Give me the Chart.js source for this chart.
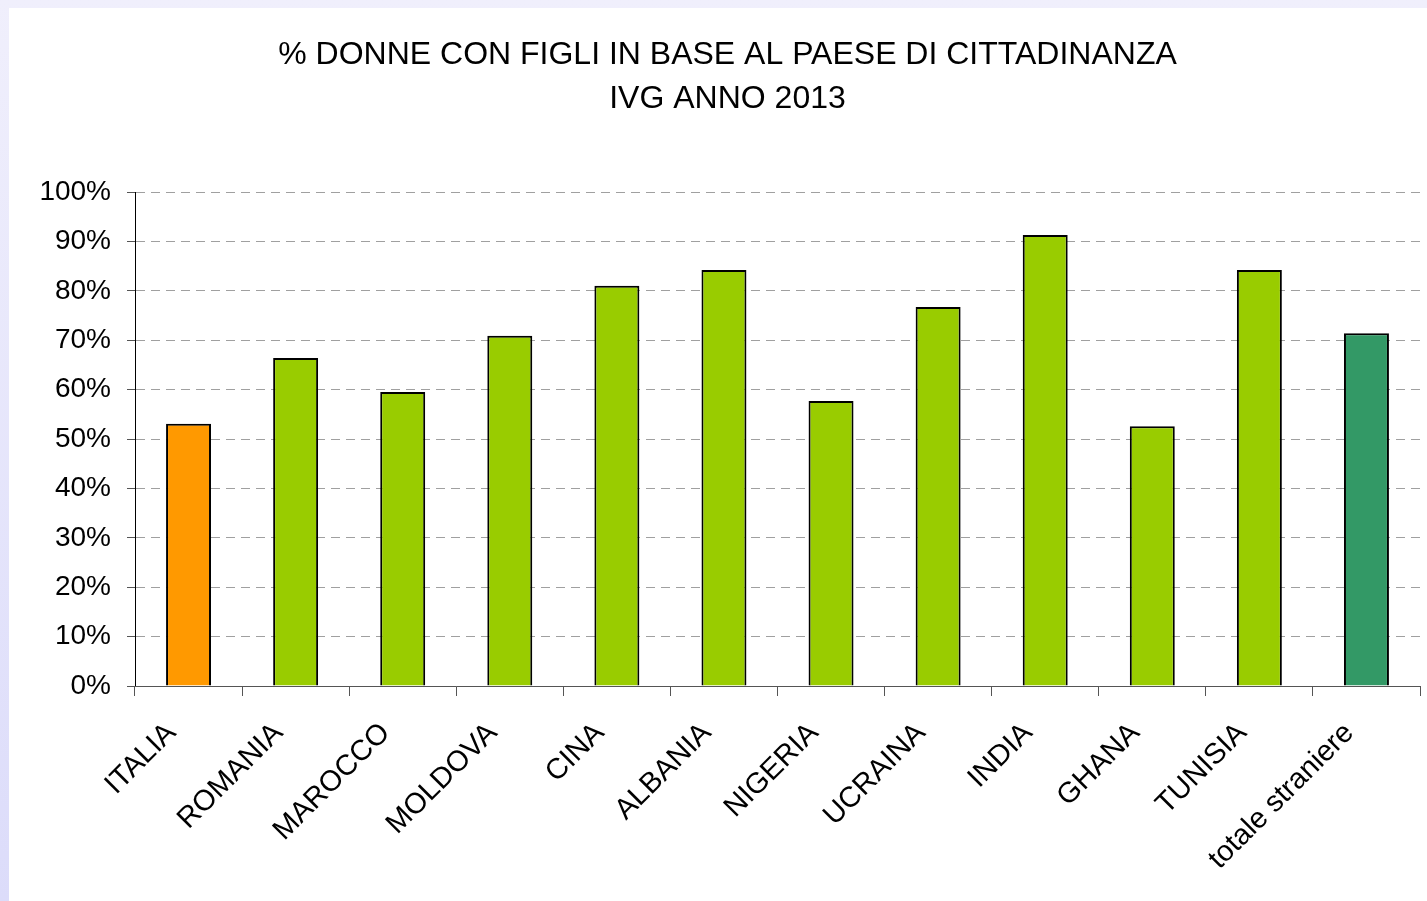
<!DOCTYPE html>
<html>
<head>
<meta charset="utf-8">
<script src="https://cdn.jsdelivr.net/npm/chart.js@4"></script>
<style>
  html, body { margin: 0; padding: 0; }
  body {
    width: 1427px; height: 901px; overflow: hidden;
    background: linear-gradient(#f0effc, #dcdcfa);
  }
  #wrap {
    position: absolute; left: 9px; top: 8px;
    width: 1418px; height: 893px; background: #ffffff;
  }
</style>
</head>
<body>
<div id="wrap"><canvas id="ivgChart" width="1418" height="893"></canvas></div>
<script>
// paesi di cittadinanza
const countries = ["ITALIA","ROMANIA","MAROCCO","MOLDOVA","CINA","ALBANIA","NIGERIA","UCRAINA","INDIA","GHANA","TUNISIA","totale straniere"];
// % donne con figli
const pctWithChildren = [53.1, 66.4, 59.5, 70.9, 81.0, 84.2, 57.7, 76.7, 91.3, 52.6, 84.2, 71.4];
const barColors = ["#FF9900","#99CC00","#99CC00","#99CC00","#99CC00","#99CC00","#99CC00","#99CC00","#99CC00","#99CC00","#99CC00","#339966"];
const titleLines = ["% DONNE CON FIGLI IN BASE AL PAESE DI CITTADINANZA","IVG ANNO 2013"];

const ivgChart = new Chart(
    document.getElementById("ivgChart"),
    {
        type: "bar",
        data: {
            labels: countries,
            datasets: [{
                data: pctWithChildren,
                backgroundColor: barColors,
                borderColor: "#000000",
                borderWidth: 2,
                barPercentage: 0.42,
                categoryPercentage: 1
            }]
        },
        options: {
            responsive: false,
            animation: false,
            layout: {
                padding: { left: 26, right: 7, top: 0, bottom: 0 }
            },
            plugins: {
                legend: { display: false },
                tooltip: { enabled: false },
                title: {
                    display: true,
                    text: titleLines,
                    color: "#000000",
                    font: { family: "Liberation Sans, Arial, sans-serif", size: 32, weight: "normal", lineHeight: 1.375 },
                    padding: { top: 25, bottom: 71 }
                }
            },
            scales: {
                y: {
                    min: 0,
                    max: 100,
                    afterFit: function (scale) { scale.width = 100; },
                    ticks: {
                        stepSize: 10,
                        padding: 16,
                        color: "#000000",
                        font: { family: "Liberation Sans, Arial, sans-serif", size: 28 },
                        callback: function (v) { return v + "%"; }
                    },
                    grid: {
                        color: "#a0a0a0",
                        tickColor: "#555555",
                        tickLength: 8,
                        lineWidth: 1
                    },
                    border: {
                        display: true,
                        color: "#000000",
                        width: 1,
                        dash: [9, 6]
                    }
                },
                x: {
                    afterFit: function (scale) { scale.height = 215; },
                    ticks: {
                        color: "#000000",
                        minRotation: 45,
                        maxRotation: 45,
                        padding: 3,
                        font: { family: "Liberation Sans, Arial, sans-serif", size: 29 },
                        // trailing spaces pull the rotated label a bit left of the tick, like Excel
                        callback: function (v) { return this.getLabelForValue(v) + "   "; }
                    },
                    grid: {
                        offset: true,
                        drawOnChartArea: false,
                        color: "#555555",
                        tickLength: 10
                    },
                    border: { display: true, color: "#555555", width: 1 }
                }
            }
        }
    }
);
</script>
</body>
</html>
